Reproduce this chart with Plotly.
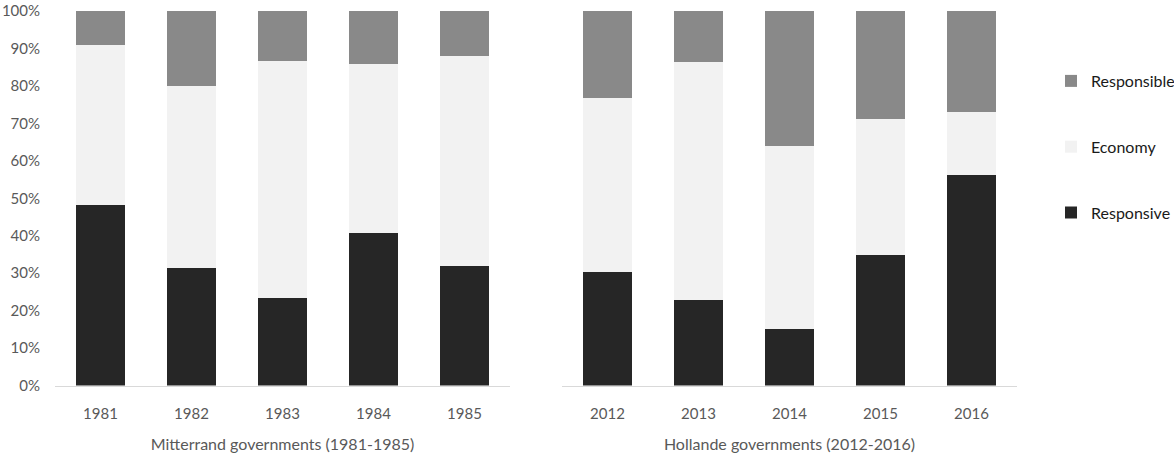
import plotly.graph_objects as go

# Share of each category per government year (percent)
mitterrand_years = ["1981", "1982", "1983", "1984", "1985"]
mitterrand_responsive = [48.3, 31.3, 23.4, 40.6, 32.0]
mitterrand_economy = [42.5, 48.6, 63.2, 45.3, 56.0]
mitterrand_responsible = [9.2, 20.1, 13.4, 14.1, 12.0]

hollande_years = ["2012", "2013", "2014", "2015", "2016"]
hollande_responsive = [30.2, 22.7, 15.0, 34.8, 56.2]
hollande_economy = [46.7, 63.6, 49.0, 36.4, 16.7]
hollande_responsible = [23.1, 13.7, 36.0, 28.8, 27.1]

series_names = ["Responsive", "Economy", "Responsible"]
series_colors = ["#262626", "#f2f2f2", "#898989"]
legend_ranks = [3, 2, 1]  # Responsible listed first

FONT = "Lato"
TICK_COLOR = "#595959"

fig = go.Figure()

panels = [
    ("x", "y", mitterrand_years, [mitterrand_responsive, mitterrand_economy, mitterrand_responsible], True),
    ("x2", "y2", hollande_years, [hollande_responsive, hollande_economy, hollande_responsible], False),
]

for xa, ya, years, values, show in panels:
    for name, color, rank, vals in zip(series_names, series_colors, legend_ranks, values):
        fig.add_trace(go.Bar(
            x=years, y=vals, name=name, xaxis=xa, yaxis=ya,
            marker=dict(color=color, line=dict(width=0)),
            width=0.535, showlegend=show, legendgroup=name, legendrank=rank,
        ))

W, H = 1174, 455
y_dom = [1 - 385.5 / H, 1 - 11 / H]

fig.update_layout(
    width=W, height=H,
    margin=dict(l=0, r=0, t=0, b=0, autoexpand=False),
    barmode="stack",
    paper_bgcolor="white", plot_bgcolor="white",
    font=dict(family=FONT, size=15, color=TICK_COLOR),
    legend=dict(
        x=1051 / W, xanchor="left", y=1 - 64 / H, yanchor="top",
        traceorder="grouped", tracegroupgap=42,
        font=dict(family=FONT, size=16, color="#1a1a1a"),
        itemwidth=30, bgcolor="rgba(0,0,0,0)",
    ),
    xaxis=dict(
        domain=[55 / W, 510 / W], anchor="y",
        showline=True, linecolor="#d9d9d9", linewidth=1,
        showgrid=False, ticks="", ticklabelstandoff=14,
        tickfont=dict(size=15, color=TICK_COLOR),
        title=dict(text="Mitterrand governments (1981-1985)", standoff=18,
                   font=dict(size=16, color=TICK_COLOR)),
        automargin=False,
    ),
    yaxis=dict(
        domain=y_dom, anchor="x", range=[0, 100], dtick=10,
        ticksuffix="%", showgrid=False, showline=False, zeroline=False,
        ticks="", ticklabelstandoff=14,
        tickfont=dict(size=15, color=TICK_COLOR),
        automargin=False,
    ),
    xaxis2=dict(
        domain=[562 / W, 1017 / W], anchor="y2",
        showline=True, linecolor="#d9d9d9", linewidth=1,
        showgrid=False, ticks="", ticklabelstandoff=14,
        tickfont=dict(size=15, color=TICK_COLOR),
        title=dict(text="Hollande governments (2012-2016)", standoff=18,
                   font=dict(size=16, color=TICK_COLOR)),
        automargin=False,
    ),
    yaxis2=dict(
        domain=y_dom, anchor="x2", range=[0, 100],
        showticklabels=False, showgrid=False, showline=False,
        zeroline=False, ticks="", automargin=False,
    ),
)

fig.write_html("out.html")
